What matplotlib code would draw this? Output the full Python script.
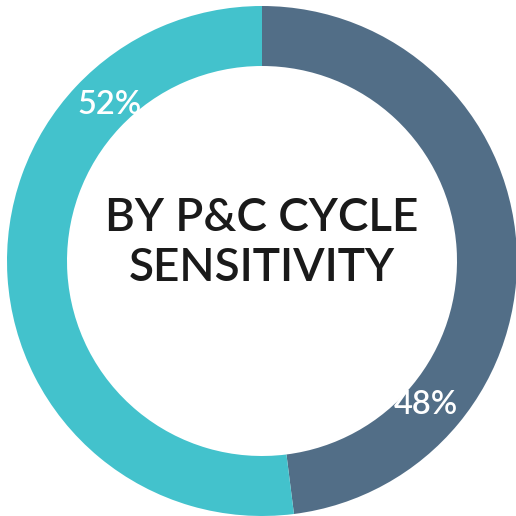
import numpy as np
import matplotlib.pyplot as plt

# Slice data (clockwise from the top)
Labels = ["48%", "52%"]
Values = [48, 52]
Colours = ["#526E87", "#43C2CC"]
Title = "BY P&C CYCLE\nSENSITIVITY"

# Label angles (degrees) where the percentages sit on the ring
Label_Angles = [-41.3, 134.3]

fig = plt.figure(figsize=(5.16, 5.16), dpi=100)
ax = fig.add_axes([0, 0, 1, 1])

R = 255.0
ax.pie(Values, colors=Colours, startangle=90, counterclock=False, radius=1.0,
       wedgeprops={'width': 60 / R, 'linewidth': 0})
ax.set_aspect('equal')
ax.set_xlim(-262 / R, (516 - 262) / R)
ax.set_ylim(-(516 - 261) / R, 261 / R)
ax.axis('off')

for lab, ang in zip(Labels, Label_Angles):
    a = np.deg2rad(ang)
    ax.text(0.855 * np.cos(a), 0.855 * np.sin(a), lab, color='white',
            ha='center', va='center', fontsize=23.5, family='Lato',
            fontweight='semibold')

ax.text(0, (261 - 243) / R, Title, ha='center', va='center', fontsize=33,
        family='Lato', fontweight='semibold', color='#1a1a1a', linespacing=1.25)

fig.savefig("out.png", dpi=100)
